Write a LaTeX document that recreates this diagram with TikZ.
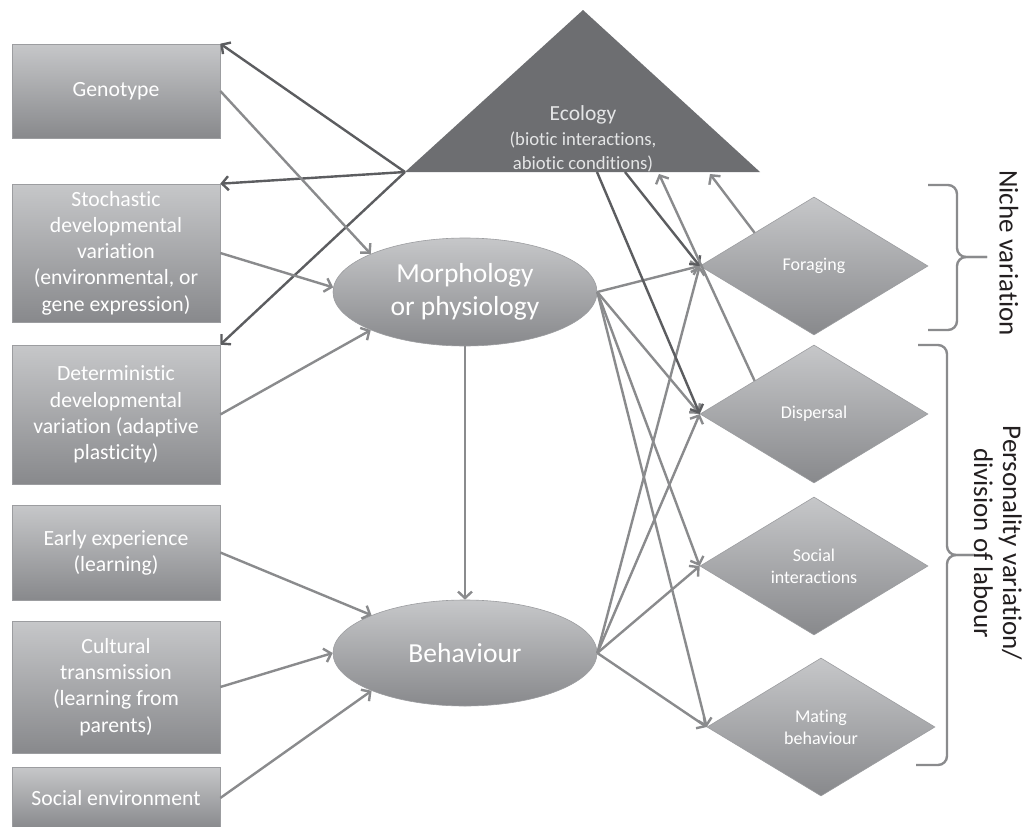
\documentclass[tikz,border=0pt]{standalone}
\usepackage{fontspec}
\setmainfont{Carlito}[Ligatures=NoCommon]
\usetikzlibrary{arrows.meta,shapes.geometric,calc}
\definecolor{boxtop}{HTML}{C6C7C9}
\definecolor{boxbot}{HTML}{88898C}
\definecolor{boxedge}{HTML}{9C9DA0}
\definecolor{tri}{HTML}{6D6E71}
\definecolor{lightarr}{HTML}{8A8B8D}
\definecolor{darkarr}{HTML}{5C5D60}
\definecolor{labeltext}{HTML}{231F20}
\definecolor{ecotext}{HTML}{E4E5E6}
\tikzset{
  box/.style={rectangle, minimum width=208pt, inner sep=0pt, top color=boxtop, bottom color=boxbot,
    draw=boxedge, line width=0.6pt, text=white, align=center, font=\fontsize{21.7}{26.3}\selectfont},
  ell/.style={ellipse, minimum width=264pt, inner sep=0pt, top color=boxtop, bottom color=boxbot,
    draw=boxedge, line width=0.6pt, text=white, align=center, font=\fontsize{27.5}{33}\selectfont},
  dia/.style={diamond, aspect=1.65, minimum width=228pt, minimum height=138pt, inner sep=0pt,
    top color=boxtop, bottom color=boxbot, draw=boxedge, line width=0.6pt, text=white, align=center,
    font=\fontsize{18}{22}\selectfont},
  lightarrow/.style={draw=lightarr, line width=2.4pt, -{Straight Barb[length=6.5pt,width=14pt]}},
  darkarrow/.style={draw=darkarr, line width=2.4pt, -{Straight Barb[length=6.5pt,width=14pt]}},
  bracepath/.style={draw=lightarr, line width=2.4pt, rounded corners=9pt},
  sidelabel/.style={rotate=-90, text=labeltext, align=center, font=\fontsize{27}{29}\selectfont}
}
\begin{document}
\begin{tikzpicture}[x=1pt,y=-1pt]
\useasboundingbox (0,0) rectangle (1026,827);
\fill[white] (0,0) rectangle (1026,827);

% Ecology triangle
\coordinate (ecoA) at (583,10);
\coordinate (ecoL) at (405,172);
\coordinate (ecoR) at (760,172);
\fill[tri] (ecoA) -- (ecoL) -- (ecoR) -- cycle;
\node[text=ecotext, align=center, font=\fontsize{18.7}{24.5}\selectfont] (eco) at (583,139)
  {{\fontsize{21.5}{24.5}\selectfont Ecology}\\(biotic interactions,\\abiotic conditions)};
\coordinate (ecoB1) at (597,172);
\coordinate (ecoB2) at (625,172);
\coordinate (ecoB3) at (659,174);
\coordinate (ecoB4) at (710,174);

% Left boxes
\node[box, minimum height=94pt] (geno) at (116,91) {Genotype};
\node[box, minimum height=138pt] (stoch) at (116,253) {Stochastic\\developmental\\variation\\(environmental, or\\gene expression)};
\node[box, minimum height=139pt] (determ) at (116,414.5) {Deterministic\\developmental\\variation (adaptive\\plasticity)};
\node[box, minimum height=95pt] (early) at (116,552.5) {Early experience\\(learning)};
\node[box, minimum height=132pt] (cult) at (116,687) {Cultural\\transmission\\(learning from\\parents)};
\node[box, minimum height=62pt] (socenv) at (116,798) {Social environment};

% Ellipses
\node[ell, minimum height=108pt] (morph) at (465,292) {Morphology\\or physiology};
\node[ell, minimum height=106pt] (behav) at (465,653) {Behaviour};

% Diamonds
\node[dia] (forag) at (814,266) {Foraging};
\node[dia] (disp) at (814,414) {Dispersal};
\node[dia] (soc) at (814,566) {Social\\interactions};
\node[dia] (mate) at (821,727) {Mating\\behaviour};

\coordinate (forUp) at ($(forag.north)!0.52!(forag.west)$);
\coordinate (dispUp) at ($(disp.north)!0.52!(disp.west)$);

% Braces
\coordinate (nbT) at (928,185);
\coordinate (nbB) at (928,330);
\coordinate (nbTip) at (987,257);
\draw[bracepath] (nbT) -- (957,185) -- (957,257) -- (nbTip);
\draw[bracepath] (nbB) -- (957,330) -- (957,257) -- (nbTip);
\coordinate (pbT) at (918,345);
\coordinate (pbB) at (916,765);
\coordinate (pbTip) at (975,555);
\draw[bracepath] (pbT) -- (947,345) -- (947,555) -- (pbTip);
\draw[bracepath] (pbB) -- (947,765) -- (947,555) -- (pbTip);

% Side labels
\node[sidelabel] (niche) at (1009,253) {Niche variation};
\node[sidelabel] (pers) at (998,543) {Personality variation/\\division of labour};

% Arrows from ecology to left boxes
\draw[darkarrow] (ecoL) -- (geno.north east);
\draw[darkarrow] (ecoL) -- (stoch.north east);
\draw[darkarrow] (ecoL) -- (determ.north east);

% Inputs to morphology
\draw[lightarrow] (geno.east) -- (morph.158);
\draw[lightarrow] (stoch.east) -- (morph.178);
\draw[lightarrow] (determ.east) -- (morph.202);

% Inputs to behaviour
\draw[lightarrow] (early.east) -- (behav.158);
\draw[lightarrow] (cult.east) -- (behav.west);
\draw[lightarrow] (socenv.east) -- (behav.202);
\draw[lightarrow] (morph.south) -- (behav.north);

% Outputs to diamonds
\foreach \d in {forag,disp,soc,mate}{
  \draw[lightarrow] (morph.east) -- (\d.west);
  \draw[lightarrow] (behav.east) -- (\d.west);
}

% Ecology to diamonds
\draw[darkarrow] (ecoB1) -- (disp.west);
\draw[darkarrow] (ecoB2) -- (forag.west);

% Feedback to ecology
\draw[lightarrow] (dispUp) -- (ecoB3);
\draw[lightarrow] (forUp) -- (ecoB4);
\end{tikzpicture}
\end{document}
